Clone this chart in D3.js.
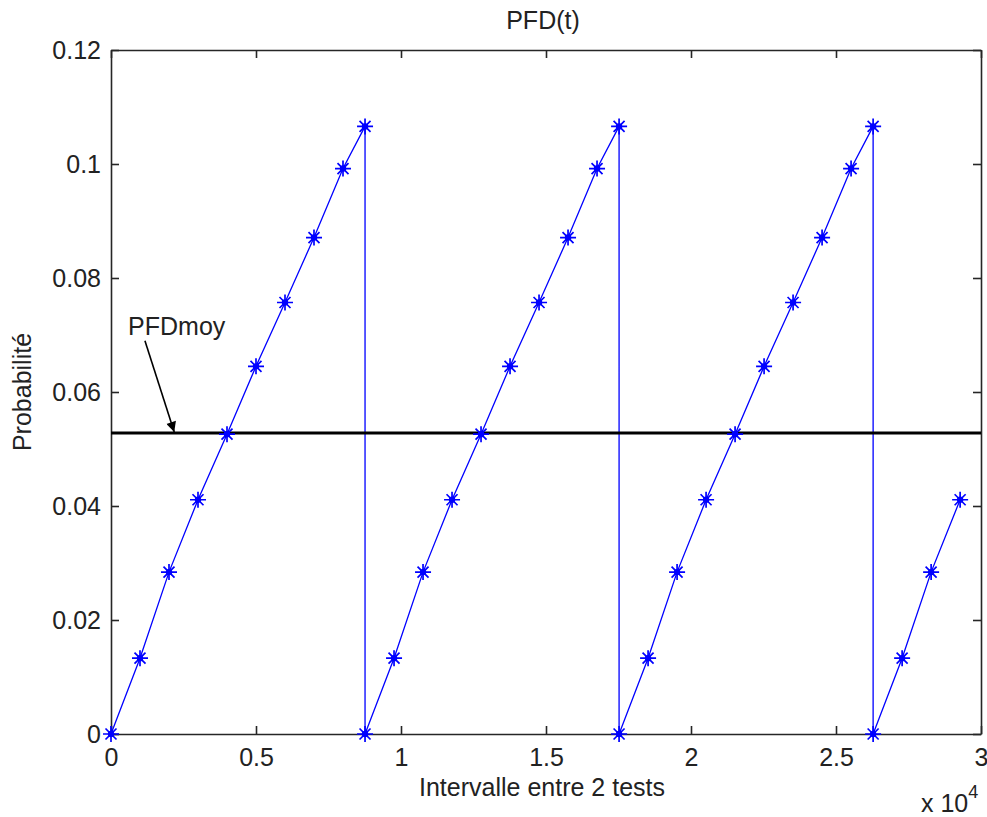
<!DOCTYPE html>
<html>
<head>
<meta charset="utf-8">
<script src="https://cdn.jsdelivr.net/npm/d3@7"></script>
<style>
  html, body { margin: 0; padding: 0; background: #fff; }
  svg { display: block; }
  text { font-family: "Liberation Sans", Arial, Helvetica, sans-serif; fill: #222; }
</style>
</head>
<body>
<script>
// ---- data ----
const title = "PFD(t)";
const xLabel = "Intervalle entre 2 tests";
const yLabel = "Probabilité";
const xTicks = [0, 5000, 10000, 15000, 20000, 25000, 30000];
const xTickLabels = ["0", "0.5", "1", "1.5", "2", "2.5", "3"];
const yTicks = [0, 0.02, 0.04, 0.06, 0.08, 0.1, 0.12];
const yTickLabels = ["0", "0.02", "0.04", "0.06", "0.08", "0.1", "0.12"];
const xValues = [
  0, 1000, 2000, 3000, 4000, 5000, 6000, 7000, 8000, 8760,
  8760, 9760, 10760, 11760, 12760, 13760, 14760, 15760, 16760, 17520,
  17520, 18520, 19520, 20520, 21520, 22520, 23520, 24520, 25520, 26280,
  26280, 27280, 28280, 29280
];
const yValues = [
  0, 0.0133, 0.0284, 0.0411, 0.0526, 0.0645, 0.0757, 0.0871, 0.0992, 0.1066,
  0, 0.0133, 0.0284, 0.0411, 0.0526, 0.0645, 0.0757, 0.0871, 0.0992, 0.1066,
  0, 0.0133, 0.0284, 0.0411, 0.0526, 0.0645, 0.0757, 0.0871, 0.0992, 0.1066,
  0, 0.0133, 0.0284, 0.0411
];
const pfdMoy = 0.0528;
const annotationText = "PFDmoy";
const annotationTextPos = [590, 0.0700];
const arrowStart = [1170, 0.0690];
const arrowEnd = [2180, 0.0530];

// ---- layout ----
const W = 987, H = 817;
const m = { left: 111, right: 981, top: 50, bottom: 734 };
const fontSize = 25;

const svg = d3.select("body").append("svg").attr("width", W).attr("height", H);

const x = d3.scaleLinear().domain([0, 30000]).range([m.left, m.right]);
const y = d3.scaleLinear().domain([0, 0.12]).range([m.bottom, m.top]);

const axisColor = "#262626";

// axes (ticks inward)
const tickLen = 8;
const gBottom = svg.append("g").attr("transform", `translate(0,${m.bottom})`)
  .call(d3.axisBottom(x).tickValues(xTicks).tickSizeInner(-tickLen).tickSizeOuter(0)
    .tickPadding(14).tickFormat((d, i) => xTickLabels[i]));
const gTop = svg.append("g").attr("transform", `translate(0,${m.top})`)
  .call(d3.axisTop(x).tickValues(xTicks).tickSizeInner(-tickLen).tickSizeOuter(0).tickFormat(""));
const gLeft = svg.append("g").attr("transform", `translate(${m.left},0)`)
  .call(d3.axisLeft(y).tickValues(yTicks).tickSizeInner(-tickLen).tickSizeOuter(0)
    .tickPadding(tickLen + 2).tickFormat((d, i) => yTickLabels[i]));
const gRight = svg.append("g").attr("transform", `translate(${m.right},0)`)
  .call(d3.axisRight(y).tickValues(yTicks).tickSizeInner(-tickLen).tickSizeOuter(0).tickFormat(""));

[gBottom, gTop, gLeft, gRight].forEach(g => {
  g.select(".domain").attr("stroke", axisColor).attr("stroke-width", 1.6);
  g.selectAll(".tick line").attr("stroke", axisColor).attr("stroke-width", 1.6);
  g.selectAll(".tick text").attr("font-size", fontSize).attr("fill", "#222")
    .attr("font-family", '"Liberation Sans", Arial, sans-serif');
});
gBottom.selectAll(".tick text").attr("dy", "0.71em");
gLeft.selectAll(".tick text").attr("dy", "0.35em");

// data line
const pts = xValues.map((v, i) => [v, yValues[i]]);
const line = d3.line().x(d => x(d[0])).y(d => y(d[1]));
svg.append("path").datum(pts).attr("d", line)
  .attr("fill", "none").attr("stroke", "#0000ff").attr("stroke-width", 1.3);

// mean line
svg.append("line")
  .attr("x1", x(0)).attr("x2", x(30000))
  .attr("y1", y(pfdMoy)).attr("y2", y(pfdMoy))
  .attr("stroke", "#000").attr("stroke-width", 3);

// star markers
const mk = svg.append("g").attr("stroke", "#0000ff").attr("stroke-width", 1.7);
pts.forEach(d => {
  const cx = x(d[0]), cy = y(d[1]);
  const a = 8, b = 5.5;
  mk.append("path").attr("d",
    `M${cx - a},${cy}L${cx + a},${cy}M${cx},${cy - a}L${cx},${cy + a}` +
    `M${cx - b},${cy - b}L${cx + b},${cy + b}M${cx - b},${cy + b}L${cx + b},${cy - b}`);
  mk.append("circle").attr("cx", cx).attr("cy", cy).attr("r", 3.2).attr("fill", "#0000ff").attr("stroke", "none");
});

// annotation
const defs = svg.append("defs");
defs.append("marker").attr("id", "arrowhead")
  .attr("viewBox", "0 0 10 10").attr("refX", 10).attr("refY", 5)
  .attr("markerWidth", 11).attr("markerHeight", 10).attr("markerUnits", "userSpaceOnUse")
  .attr("orient", "auto")
  .append("path").attr("d", "M0,0L10,5L0,10Z").attr("fill", "#000");
svg.append("line")
  .attr("x1", x(arrowStart[0])).attr("y1", y(arrowStart[1]))
  .attr("x2", x(arrowEnd[0])).attr("y2", y(arrowEnd[1]))
  .attr("stroke", "#000").attr("stroke-width", 1.6)
  .attr("marker-end", "url(#arrowhead)");
svg.append("text").attr("x", x(annotationTextPos[0])).attr("y", y(annotationTextPos[1]))
  .attr("font-size", fontSize).text(annotationText);

// title and labels
svg.append("text").attr("x", 543).attr("y", 29).attr("text-anchor", "middle")
  .attr("font-size", fontSize).text(title);
svg.append("text").attr("x", 542).attr("y", 796).attr("text-anchor", "middle")
  .attr("font-size", fontSize).text(xLabel);
svg.append("text").attr("transform", `translate(31,${(m.top + m.bottom) / 2}) rotate(-90)`)
  .attr("text-anchor", "middle").attr("font-size", fontSize).text(yLabel);

// exponent label
const ex = svg.append("text").attr("x", 921).attr("y", 812).attr("font-size", fontSize);
ex.append("tspan").text("x 10");
ex.append("tspan").attr("dy", -14).attr("font-size", 18).text("4");
</script>
</body>
</html>
